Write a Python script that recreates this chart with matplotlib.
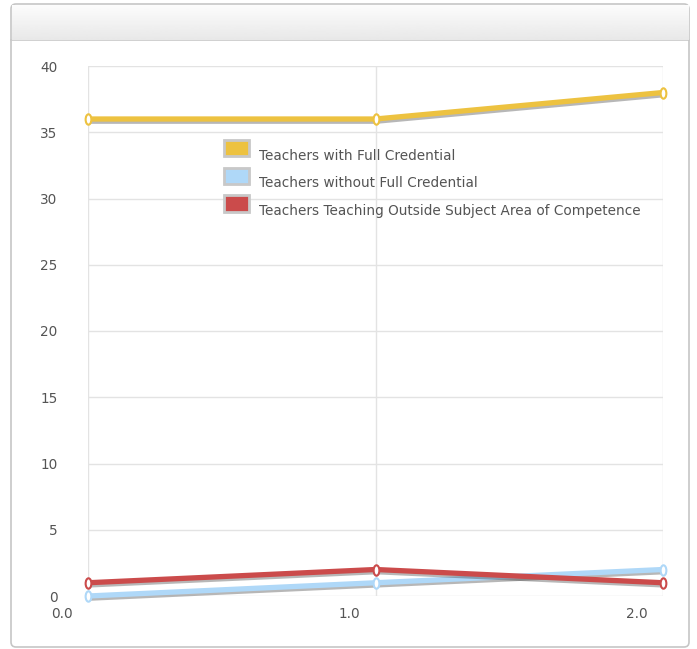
import numpy as np
import matplotlib
matplotlib.use("Agg")
import matplotlib.pyplot as plt
import matplotlib.patheffects as pe
from matplotlib.patches import Patch, FancyBboxPatch
from matplotlib.path import Path
from matplotlib.transforms import Affine2D, ScaledTranslation

x = [0, 1, 2]
full_credential = [36, 36, 38]
without_credential = [0, 1, 2]
outside_subject = [1, 2, 1]
series_names = ["Teachers with Full Credential",
                "Teachers without Full Credential",
                "Teachers Teaching Outside Subject Area of Competence"]
colors = ["#edc240", "#afd8f8", "#cb4b4b"]
xtick_labels = ["0.0", "1.0", "2.0"]
yticks = [0, 5, 10, 15, 20, 25, 30, 35, 40]

W, H = 697, 649
fig = plt.figure(figsize=(W/100, H/100), dpi=100)

# panel with border and gray header
bg = fig.add_axes([0, 0, 1, 1])
bg.set_xlim(0, W)
bg.set_ylim(H, 0)
bg.axis("off")
bg.add_patch(FancyBboxPatch((11, 4), 678, 643, boxstyle="round,pad=0,rounding_size=5",
                            facecolor="white", edgecolor="#c6c6c6", linewidth=1.2))
head = fig.add_axes([11.6/W, 1-40/H, 676.8/W, 35.5/H])
grad = np.linspace(0.99, 0.91, 50).reshape(-1, 1)
head.imshow(grad, cmap="gray", vmin=0, vmax=1, aspect="auto")
head.axis("off")
bg.plot([11, 689], [40, 40], color="#c8c8c8", lw=1.2)

ax = fig.add_axes([88/W, 1-596/H, 575/W, 530/H])
ax.set_xlim(0, 2)
ax.set_ylim(0, 40)

ell = Path.unit_circle().transformed(Affine2D().scale(0.55, 1.0))
shadow = [pe.SimpleLineShadow(offset=(0.6, -1.6), shadow_color="#333333", alpha=0.35),
          pe.Normal()]
for ys, c in zip([full_credential, without_credential, outside_subject], colors):
    ax.plot(x, ys, color=c, lw=3.8, clip_on=False, path_effects=shadow,
            solid_joinstyle="round", zorder=3)
    ax.plot(x, ys, ls="none", marker=ell, markersize=7.5, mfc="white", mec=c,
            mew=1.5, clip_on=False, zorder=4)

ax.set_xticks(x)
ax.set_xticklabels(xtick_labels)
ax.set_yticks(yticks)
for sp in ax.spines.values():
    sp.set_visible(False)
ax.grid(True, color="#e3e3e3", lw=1)
ax.set_axisbelow(True)
ax.tick_params(length=0, labelsize=9.8, colors="#545454")
ax.tick_params(axis="y", pad=22)
ax.tick_params(axis="x", pad=8)
for lab in ax.get_xticklabels():
    lab.set_transform(lab.get_transform() + ScaledTranslation(-26/100, 0, fig.dpi_scale_trans))

handles = [Patch(facecolor=c, edgecolor="#c8c8c8", linewidth=2.0) for c in colors]
leg = ax.legend(handles, series_names, loc="upper left",
                bbox_to_anchor=((224-88)/575, (596-140)/530),
                frameon=False, fontsize=9.8, handlelength=1.85, handleheight=1.45,
                handletextpad=0.7, labelspacing=0.85, borderpad=0, borderaxespad=0)
for t in leg.get_texts():
    t.set_color("#545454")
    t.set_transform(t.get_transform() + ScaledTranslation(0, -7/100, fig.dpi_scale_trans))

fig.savefig("out.png", dpi=100)
